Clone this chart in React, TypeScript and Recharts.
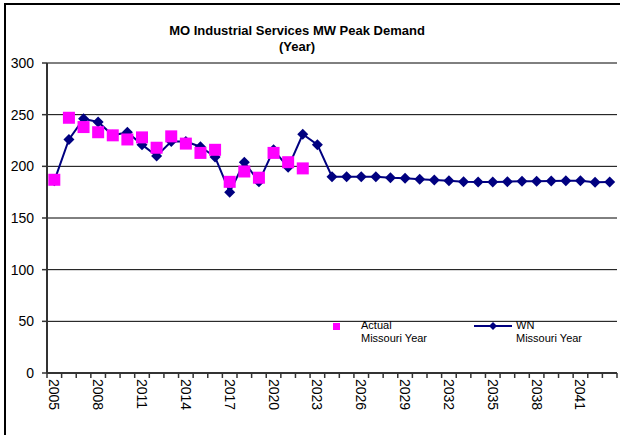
import { ComposedChart, Line, XAxis, YAxis, CartesianGrid } from 'recharts'

const FONT = '"Liberation Sans", Arial, sans-serif'
const NAVY = '#000080'
const MAGENTA = '#ff00ff'
const FRAME = '#808080'

const YEARS = [
  2005, 2006, 2007, 2008, 2009, 2010, 2011, 2012, 2013, 2014, 2015, 2016, 2017,
  2018, 2019, 2020, 2021, 2022, 2023, 2024, 2025, 2026, 2027, 2028, 2029, 2030,
  2031, 2032, 2033, 2034, 2035, 2036, 2037, 2038, 2039, 2040, 2041, 2042, 2043,
]
// actual peaks stop at 2022
const ACTUAL = [187, 247, 238, 233, 230, 226, 228, 218, 229, 222, 213, 216, 185, 195, 189, 213, 204, 198]
// weather normalized, history + forecast
const WN = [
  186, 226, 246, 243, 230, 233, 221, 210, 224, 224, 219, 209, 175, 204, 185, 216, 199, 231, 221,
  190, 190, 190, 190, 189, 188.4, 187.4, 186.8, 186.1, 185.2, 184.8, 184.8, 185.2, 185.5, 185.5,
  185.8, 186.1, 186.1, 184.5, 184.8,
]
const Y_TICKS = [0, 50, 100, 150, 200, 250, 300]

const data = YEARS.map((y, i) => ({
  year: String(y),
  actual: i < ACTUAL.length ? ACTUAL[i] : null,
  wn: WN[i],
}))

function YearTick(props: any) {
  const { x, y, payload, index } = props
  const half = 570 / YEARS.length / 2
  const last = index === YEARS.length - 1
  return (
    <g>
      <line x1={x - half} x2={x - half} y1={y} y2={y + 5} stroke="#333" strokeWidth={1.5} />
      {last && <line x1={x + half} x2={x + half} y1={y} y2={y + 5} stroke="#333" strokeWidth={1.5} />}
      {index % 3 === 0 && (
        <text
          transform={`translate(${x},${y + 6}) rotate(90)`}
          textAnchor="start"
          dominantBaseline="central"
          fontSize={14}
          fontFamily={FONT}
          fill="#000"
        >
          {payload.value}
        </text>
      )}
    </g>
  )
}

function Square(props: any) {
  const { cx, cy, value } = props
  if (value == null || cx == null || cy == null) return <g key={props.key} />
  return <rect key={props.key} x={cx - 6} y={cy - 6} width={12} height={12} fill={MAGENTA} />
}

function Diamond(props: any) {
  const { cx, cy } = props
  if (cx == null || cy == null) return <g key={props.key} />
  const r = 5.5
  return (
    <polygon
      key={props.key}
      points={`${cx},${cy - r} ${cx + r},${cy} ${cx},${cy + r} ${cx - r},${cy}`}
      fill={NAVY}
    />
  )
}

function LegendBox() {
  const txt = { fontSize: 11, fontFamily: FONT, color: '#000', lineHeight: '13px' }
  return (
    <div style={{ position: 'absolute', left: 328, top: 319, width: 290, height: 30 }}>
      <div style={{ position: 'absolute', left: 5, top: 4, width: 7, height: 7, background: MAGENTA }} />
      <div style={{ position: 'absolute', left: 33, top: 0, ...txt }}>
        Actual
        <br />
        Missouri Year
      </div>
      <svg style={{ position: 'absolute', left: 146, top: 2 }} width={40} height={10}>
        <line x1={0} x2={38} y1={5} y2={5} stroke={NAVY} strokeWidth={2} />
        <polygon points="19,1 23,5 19,9 15,5" fill={NAVY} />
      </svg>
      <div style={{ position: 'absolute', left: 188, top: 0, ...txt }}>
        WN
        <br />
        Missouri Year
      </div>
    </div>
  )
}

export default function App() {
  return (
    <div
      style={{
        position: 'fixed', left: 0, top: 0, width: 620, height: 435, overflow: 'hidden',
        background: '#fff',
      }}
    >
      <div
        style={{
          position: 'absolute', left: 4, top: 3, width: 640, height: 460,
          borderLeft: '2px solid #000', borderTop: '2px solid #000',
        }}
      />
      <div
        style={{
          position: 'absolute', left: 0, top: 23, width: 594, textAlign: 'center',
          fontFamily: FONT, fontWeight: 'bold', fontSize: 13, lineHeight: '16px', color: '#000',
        }}
      >
        MO Industrial Services MW Peak Demand
        <br />
        (Year)
      </div>
      <div style={{ position: 'absolute', left: 0, top: 0 }}>
        <ComposedChart
          width={620}
          height={435}
          data={data}
          margin={{ top: 63, right: 3, bottom: 2, left: 7 }}
        >
          <CartesianGrid vertical={false} stroke="#000" strokeWidth={1} />
          <XAxis
            dataKey="year"
            scale="band"
            interval={0}
            height={60}
            tickSize={0}
            tickMargin={0}
            tickLine={false}
            axisLine={{ stroke: '#333', strokeWidth: 2 }}
            tick={<YearTick />}
          />
          <XAxis xAxisId="top" dataKey="year" orientation="top" height={0} tick={false} tickLine={false}
            axisLine={{ stroke: FRAME, strokeWidth: 2 }} />
          <YAxis
            domain={[0, 300]}
            ticks={Y_TICKS}
            interval={0}
            width={40}
            tickSize={5}
            tickMargin={8}
            tickLine={{ stroke: '#333', strokeWidth: 1.5 }}
            axisLine={{ stroke: '#333', strokeWidth: 2 }}
            tick={{ fontSize: 14, fontFamily: FONT, fill: '#000' }}
          />
          <YAxis yAxisId="right" orientation="right" width={0} domain={[0, 300]} tick={false} tickLine={false}
            axisLine={{ stroke: FRAME, strokeWidth: 2 }} />
          <Line
            dataKey="wn"
            name="WN Missouri Year"
            stroke={NAVY}
            strokeWidth={2}
            dot={<Diamond />}
            activeDot={false}
            isAnimationActive={false}
          />
          <Line
            dataKey="actual"
            name="Actual Missouri Year"
            stroke="none"
            dot={<Square />}
            activeDot={false}
            connectNulls={false}
            isAnimationActive={false}
          />
        </ComposedChart>
      </div>
      <LegendBox />
    </div>
  )
}
